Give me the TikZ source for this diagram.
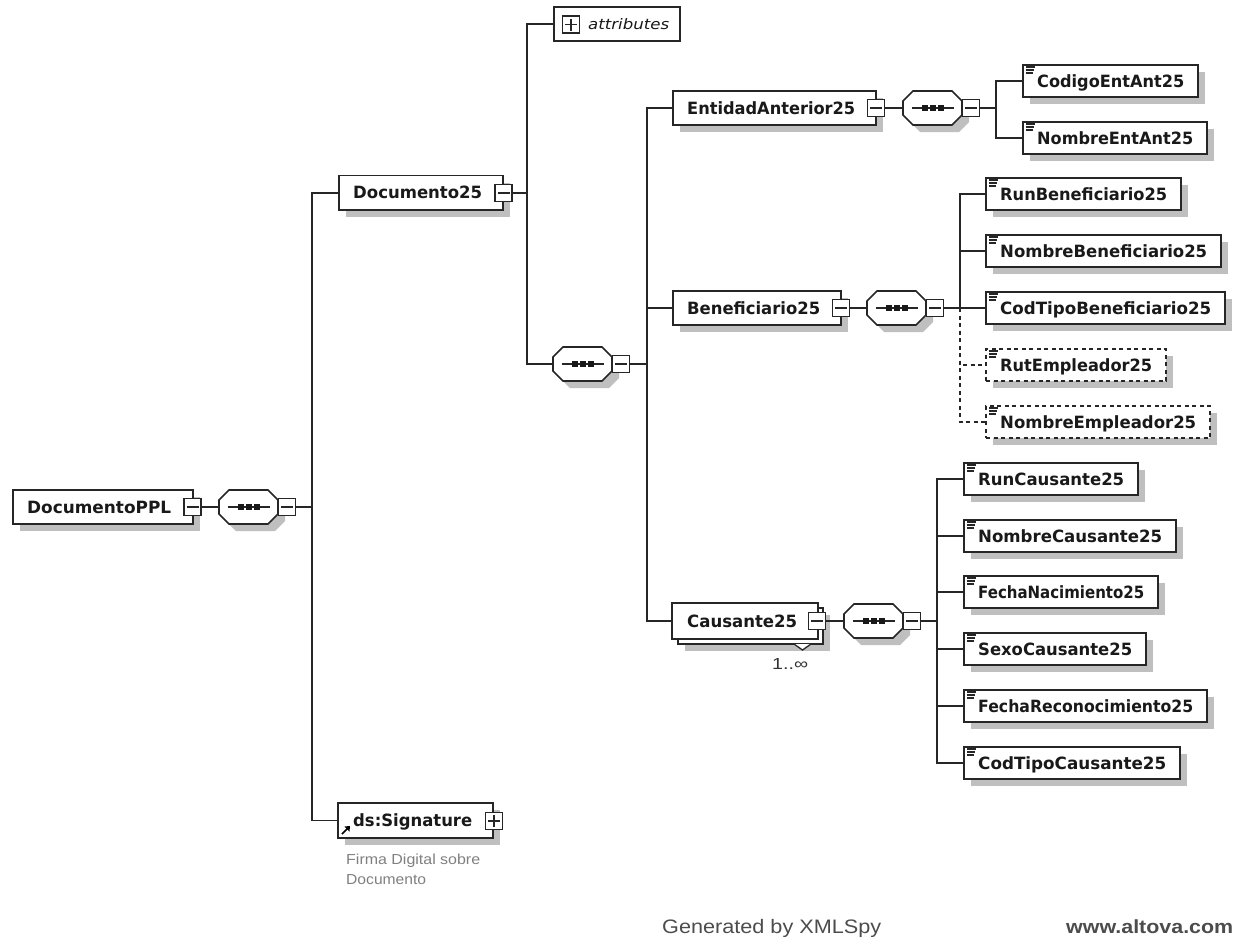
\documentclass[tikz,border=0pt]{standalone}
\usepackage{fontspec}
\usepackage{graphicx}
\setmainfont{DejaVu Sans}
\newfontfamily\arialf{Liberation Sans}
\usetikzlibrary{shadows}
\newcommand\fitw[2]{\resizebox{#1pt}{\height}{#2}}
\tikzset{
  x=1pt,y=-1pt,
  wire/.style={line width=1.5pt,draw=black!85},
  dwire/.style={wire,dash pattern=on 4pt off 3.5pt},
  boxbase/.style={draw=black!85,line width=1.6pt,fill=white,inner sep=0pt,outer sep=0pt},
  elembox/.style={boxbase,copy shadow={shadow xshift=7pt,shadow yshift=-7pt,fill=black!25,draw=none}},
  optbox/.style={elembox,dash pattern=on 4pt off 3.5pt},
  plainbox/.style={boxbase},
  seqanchor/.style={inner sep=0pt,outer sep=0pt,minimum width=59pt,minimum height=34pt},
  seqline/.style={draw=black!85,line width=1.6pt,fill=white},
  seqshadow/.style={fill=black!25},
  togbox/.style={boxbase,line width=1.5pt,minimum width=17pt,minimum height=17pt},
  lbl/.style={font=\bfseries\fontsize{16.9}{18}\selectfont,inner sep=0pt,anchor=base west,text=black!90},
  note/.style={font=\arialf\fontsize{14.5}{16}\selectfont,inner sep=0pt,anchor=base west,text=black!50},
  foot/.style={font=\arialf\fontsize{19.5}{22}\selectfont,inner sep=0pt,anchor=base west,text=black!70},
}
% style, name, l, t, r, b, text, text offset, text width
\newcommand\elemn[9]{%
  \node[#1,minimum width={(#5-#3)*1pt},minimum height={(#6-#4)*1pt}] (#2) at ({(#3+#5)/2},{(#4+#6)/2}) {};
  \node[lbl] (#2-t) at ({#3+#8},{(#4+#6)/2+6}) {\fitw{#9}{#7}};
}
% child element with the three little lines in the corner
\newcommand\leafn[7]{%
  \pgfmathsetmacro\lw{#5-#3-28}%
  \elemn{#1}{#2}{#3}{#4-1}{#5}{#6+1}{#7}{14}{\lw}
  \draw[line width=1.1pt,black!85] ({#3+3},{#4+2}) -- ++(9,0) ({#3+3},{#4+5}) -- ++(8,0) ({#3+3},{#4+8}) -- ++(6.5,0);
}
\newcommand\togminus[3]{%
  \node[togbox] (#1) at (#2,#3) {};
  \draw[line width=1.3pt,black!85] (#1.center) +(-6,0) -- +(6,0);
}
\newcommand\togplus[3]{%
  \node[togbox] (#1) at (#2,#3) {};
  \draw[line width=1.3pt,black!85] (#1.center) +(-6,0) -- +(6,0) (#1.center) +(0,-6) -- +(0,6);
}
% sequence compositor: name, left, centre y
\newcommand\seqn[3]{%
  \node[seqanchor] (#1) at ({#2+29.5},#3) {};
  \fill[seqshadow] (#1.center) ++(7,7) +(-19.5,-17) -- +(19.5,-17) -- +(29.5,-7) -- +(29.5,7) -- +(19.5,17) -- +(-19.5,17) -- +(-29.5,7) -- +(-29.5,-7) -- cycle;
  \path[seqline] (#1.center) +(-19.5,-17) -- +(19.5,-17) -- +(29.5,-7) -- +(29.5,7) -- +(19.5,17) -- +(-19.5,17) -- +(-29.5,7) -- +(-29.5,-7) -- cycle;
  \draw[line width=1.3pt,black!85] (#1.center) +(-21,0) -- +(21,0);
  \foreach \d in {-8,0,8} \fill[black!90] (#1.center) ++(\d,0) +(-3,-3) rectangle +(3,3);
  \togminus{#1-tog}{#2+68}{#3}
}
\begin{document}
\begin{tikzpicture}
\useasboundingbox (0,0) rectangle (1235,940);
\fill[white] (0,0) rectangle (1235,940);

% spines
\coordinate (sA) at (312,507);
\coordinate (sB) at (527,193);
\coordinate (sC) at (647,364);
\coordinate (sD) at (996,108);
\coordinate (sE) at (960,308);
\coordinate (sF) at (937,621);

% nodes
\elemn{elembox}{root}{13}{490}{193}{524}{DocumentoPPL}{14}{144}
\togminus{root-tog}{192.5}{507}
\seqn{seqA}{219}{507}

\elemn{elembox}{doc}{339}{175.5}{503}{210}{Documento25}{14}{129}
\togminus{doc-tog}{503.5}{193}
\node[plainbox,minimum width=126pt,minimum height=34pt] (attr) at (617,24) {};
\togplus{attr-tog}{571}{24.5}
\node[inner sep=0pt,anchor=base west,font=\itshape\fontsize{14.5}{16}\selectfont,text=black!90] (attr-t) at (588,29) {\fitw{81}{attributes}};
\seqn{seqB}{553}{364}

\elemn{elembox}{ent}{673}{91}{876}{125}{EntidadAnterior25}{14}{168}
\togminus{ent-tog}{876}{108}
\seqn{seqC}{903}{108}
\leafn{elembox}{cod}{1023}{65}{1198}{97}{CodigoEntAnt25}
\leafn{elembox}{nom}{1023}{122}{1207}{154}{NombreEntAnt25}

\elemn{elembox}{ben}{673}{291}{841}{325}{Beneficiario25}{14}{133}
\togminus{ben-tog}{841}{308}
\seqn{seqD}{867}{308}
\leafn{elembox}{run}{986}{178}{1181}{210}{RunBeneficiario25}
\leafn{elembox}{nben}{986}{235}{1221}{267}{NombreBeneficiario25}
\leafn{elembox}{ctb}{986}{292}{1225}{324}{CodTipoBeneficiario25}
\leafn{optbox}{rut}{986}{349}{1166}{381}{RutEmpleador25}
\leafn{optbox}{nemp}{986}{406}{1210}{438}{NombreEmpleador25}

\draw[line width=1.3pt,draw=black!85,fill=white] (793,641) -- (802.5,650) -- (812,641);
\node[elembox,minimum width=145pt,minimum height=36pt] (causb) at (750.5,626) {};
\draw[line width=1.3pt,draw=black!85,fill=white] (794,644) -- (802.5,650) -- (811,644);
\elemn{boxbase}{caus}{672}{603}{818}{639}{Causante25}{15}{110}
\togminus{caus-tog}{817}{621}
\seqn{seqE}{844}{621}
\node[note,font=\arialf\fontsize{16}{18}\selectfont,text=black!80] (mult) at (772,669) {\fitw{36}{1..∞}};
\leafn{elembox}{rc}{964}{463}{1138}{495}{RunCausante25}
\leafn{elembox}{nc}{964}{520}{1176}{552}{NombreCausante25}
\leafn{elembox}{fn}{964}{576}{1158}{608}{FechaNacimiento25}
\leafn{elembox}{sc}{964}{633}{1146}{665}{SexoCausante25}
\leafn{elembox}{fr}{964}{690}{1207}{722}{FechaReconocimiento25}
\leafn{elembox}{ct}{964}{747}{1180}{779}{CodTipoCausante25}

\elemn{elembox}{sig}{338}{803}{493}{838}{ds:Signature}{15}{119}
\togplus{sig-tog}{494}{821}
\draw[line width=1.6pt,black] (342,834) -- (348,828);
\fill[black] (350,826) -- (344.5,826.5) -- (349.5,831.5) -- cycle;

\node[note] (firma) at (346,864) {\fitw{134}{Firma Digital sobre}};
\node[note] (firma2) at (346,884) {\fitw{80}{Documento}};
\node[foot] (gen) at (662,933) {\fitw{219}{Generated by XMLSpy}};
\node[foot,font=\arialf\bfseries\fontsize{19}{22}\selectfont] (www) at (1066,933) {\fitw{167}{www.altova.com}};

% connectors
\begin{scope}[wire]
\draw (root-tog) -- (seqA);
\draw (seqA-tog) -- (sA);
\draw (sA) |- (doc.west);
\draw (sA) |- (sig.west);
\draw (doc-tog) -- (sB);
\draw (sB) |- (attr.west);
\draw (sB) |- (seqB.west);
\draw (seqB-tog) -- (sC);
\draw (sC) |- (ent.west);
\draw (sC) |- (ben.west);
\draw (sC) |- (caus.west);
\draw (ent-tog) -- (seqC);
\draw (seqC-tog) -- (sD);
\draw (sD) |- (cod.west);
\draw (sD) |- (nom.west);
\draw (ben-tog) -- (seqD);
\draw (seqD-tog) -- (sE);
\draw (sE) |- (run.west);
\draw (sE) |- (nben.west);
\draw (sE) -- (ctb.west);
\draw[dwire] (sE) |- (rut.west);
\draw[dwire] (sE) |- (nemp.west);
\draw (caus-tog) -- (seqE);
\draw (seqE-tog) -- (sF);
\draw (sF) |- (rc.west);
\draw (sF) |- (nc.west);
\draw (sF) |- (fn.west);
\draw (sF) |- (sc.west);
\draw (sF) |- (fr.west);
\draw (sF) |- (ct.west);
\end{scope}
\end{tikzpicture}
\end{document}
